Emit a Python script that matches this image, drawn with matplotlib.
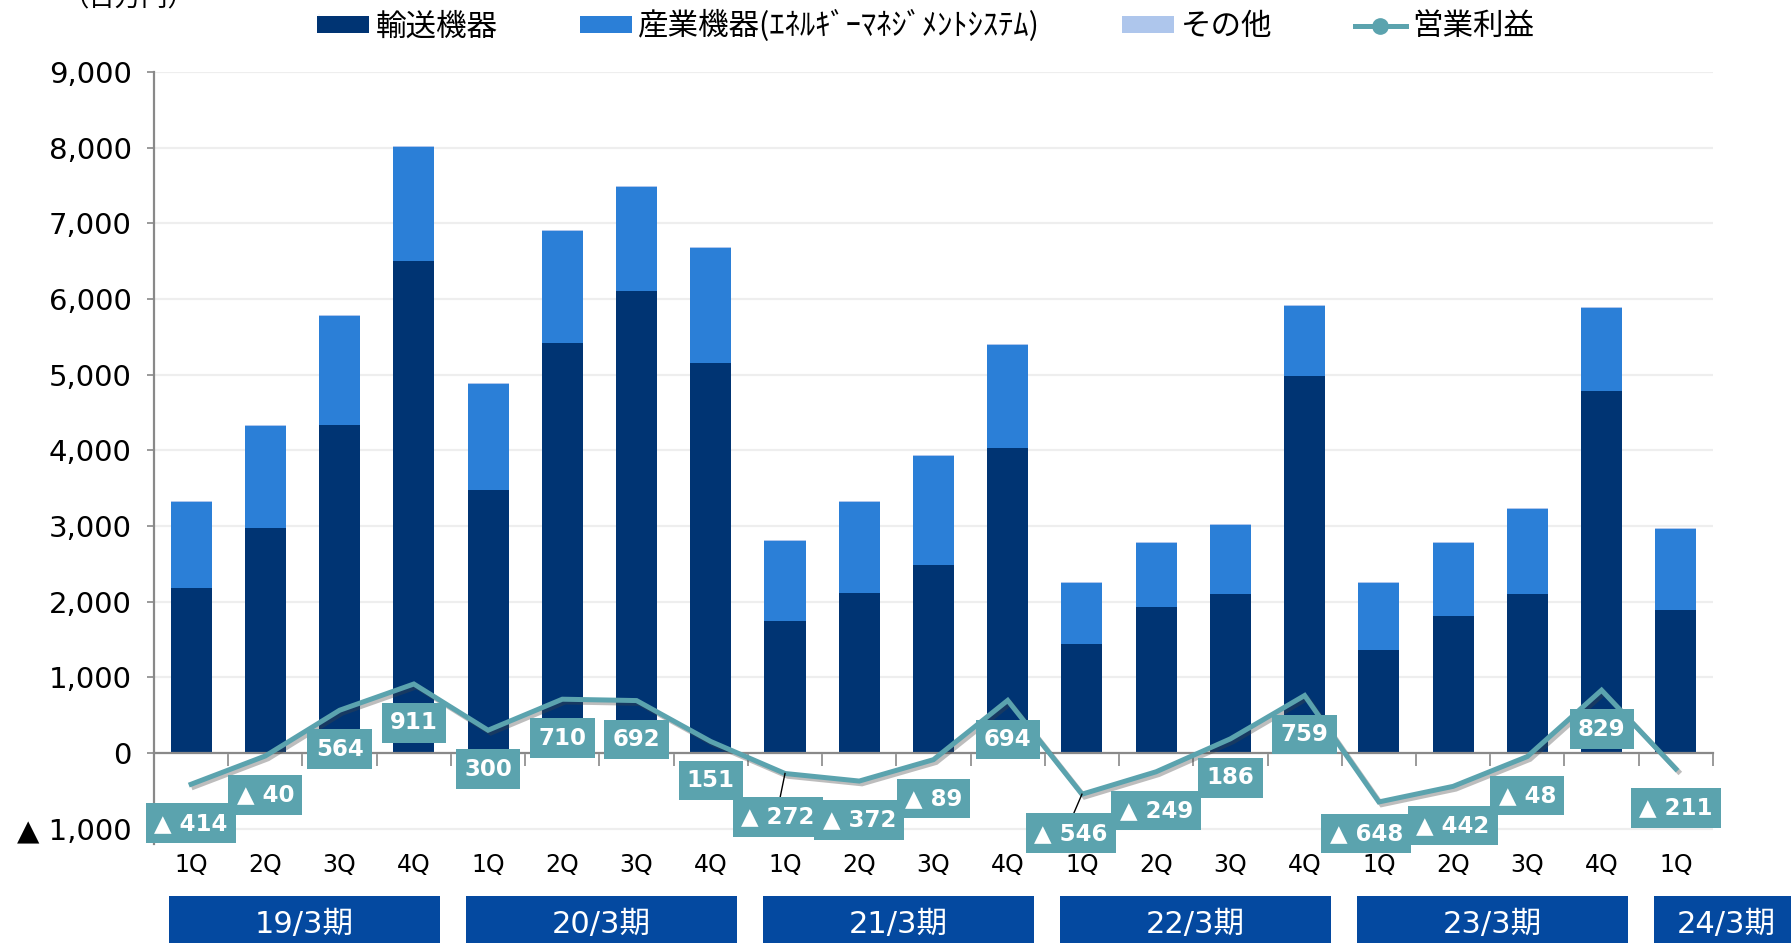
import matplotlib
matplotlib.use("Agg")
import matplotlib.pyplot as plt
import matplotlib.patheffects as pe
from matplotlib.patches import Patch, Rectangle
from matplotlib.lines import Line2D
from matplotlib.font_manager import FontProperties
import numpy as np

# data (million yen)
quarters = ["1Q", "2Q", "3Q", "4Q"] * 5 + ["1Q"]
periods = ["19/3期", "20/3期", "21/3期", "22/3期", "23/3期", "24/3期"]
transport = [2180, 2975, 4335, 6500, 3470, 5420, 6100, 5150,
             1750, 2110, 2490, 4035,
             1445, 1930, 2105, 4985,
             1365, 1815, 2095, 4780,
             1895]
industrial = [1140, 1340, 1445, 1510, 1410, 1475, 1385, 1520,
              1055, 1210, 1430, 1360,
              805, 840, 910, 925,
              885, 955, 1130, 1100,
              1065]
other = [15, 15, 15, 15, 15, 15, 15, 15,
         15, 15, 15, 15,
         15, 12, 12, 15,
         12, 12, 15, 15,
         15]
op_profit = [-414, -40, 564, 911, 300, 710, 692, 151,
             -272, -372, -89, 694,
             -546, -249, 186, 759,
             -648, -442, -48, 829,
             -211]

C_NAVY = "#003473"
C_BLUE = "#2B7FD7"
C_LIGHT = "#AEC6EC"
C_TEAL = "#5BA3AE"
C_PERIOD = "#0449A0"

JP = ["Noto Sans CJK JP", "DejaVu Sans"]
plt.rcParams["font.family"] = ["DejaVu Sans", "Noto Sans CJK JP"]

fig = plt.figure(figsize=(17.91, 9.43), dpi=100)
ax = fig.add_axes([0.086, 0.1053, 0.8704, 0.8183])

x = np.arange(len(transport))
w = 0.553
t = np.array(transport)
i_ = np.array(industrial)
ax.bar(x, t, w, color=C_NAVY, zorder=2)
ax.bar(x, i_, w, bottom=t, color=C_BLUE, zorder=2)
ax.bar(x, other, w, bottom=t + i_, color=C_LIGHT, zorder=2)

line, = ax.plot(x, op_profit, color=C_TEAL, lw=3.6, zorder=4,
                solid_joinstyle="miter",
                path_effects=[pe.SimpleLineShadow(offset=(2, -2), shadow_color="#444444", alpha=0.35),
                              pe.Normal()])

# data labels (boxes below the points)
label_nudge = {8: (-0.1, -60), 12: (-0.15, 0), 16: (-0.17, 95)}
for k, v in enumerate(op_profit):
    dx, dy = label_nudge.get(k, (0, 0))
    ly = v - 515 + dy
    txt = f"▲ {abs(v)}" if v < 0 else f"{v}"
    ax.text(k + dx, ly, txt, ha="center", va="center", color="white",
            fontsize=16.5, fontweight="bold",
            family=["DejaVu Sans"], zorder=6,
            bbox=dict(boxstyle="square,pad=0.36", fc=C_TEAL, ec="none"))
    if k in (8, 12):
        ax.plot([k, k + dx + 0.03], [v, ly + 240], color="black", lw=1, zorder=5)

ax.set_xlim(-0.5, len(x) - 0.5)
ax.set_ylim(-1200, 9000)

yt = np.arange(-1000, 9001, 1000)
ax.set_yticks(yt)
ax.set_yticklabels([f"▲ {abs(v):,}" if v < 0 else f"{v:,}" for v in yt], fontsize=21)
ax.tick_params(axis="y", length=5, width=1.2, color="#898989", pad=11)
ax.grid(axis="y", color="#EEEEEE", lw=1.6, zorder=0)
ax.set_axisbelow(True)

ax.set_xticks(np.arange(-0.5, len(x), 1))
ax.set_xticklabels([])
ax.tick_params(axis="x", length=9, width=1.2, color="#898989", direction="out")
ax.spines["bottom"].set_position(("data", 0))
ax.spines["bottom"].set_color("#898989")
ax.spines["bottom"].set_linewidth(1.6)
ax.spines["bottom"].set_zorder(3)
ax.spines["left"].set_color("#898989")
ax.spines["left"].set_linewidth(1.6)
ax.spines["top"].set_visible(False)
ax.spines["right"].set_visible(False)

for k, q in enumerate(quarters):
    ax.text(k, -1480, q, ha="center", va="center", fontsize=17, clip_on=False)

# fiscal period boxes
for p, name in enumerate(periods):
    x0 = p * 4 - 0.3
    x1 = p * 4 + 3.35 if p < len(periods) - 1 else 24
    ax.add_patch(Rectangle((x0, -2600), x1 - x0, 710, fc=C_PERIOD, ec="none",
                           clip_on=False, zorder=1))
    cx = (x0 + x1) / 2 if p < len(periods) - 1 else 20.68
    ax.text(cx, -2270, name, ha="center", va="center", color="white",
            fontsize=22, family=["DejaVu Sans", "Noto Sans CJK JP"], clip_on=False)

fig.text(0.0716, 1 - 12 / 943, "（百万円）", ha="center", va="bottom",
         fontsize=19, family=JP)

handles = [Patch(fc=C_NAVY), Patch(fc=C_BLUE), Patch(fc=C_LIGHT),
           Line2D([], [], color=C_TEAL, lw=3.6, marker="o", markersize=11)]
labels = ["輸送機器", "産業機器(ｴﾈﾙｷﾞｰﾏﾈｼﾞﾒﾝﾄｼｽﾃﾑ)", "その他", "営業利益"]
fig.legend(handles, labels, loc="center", bbox_to_anchor=(0.517, 0.972), ncol=4,
           frameon=False, handlelength=1.7, handleheight=0.5, handletextpad=0.2,
           columnspacing=2.7, prop=FontProperties(family=JP, size=22))

fig.savefig("out.png", dpi=100)
